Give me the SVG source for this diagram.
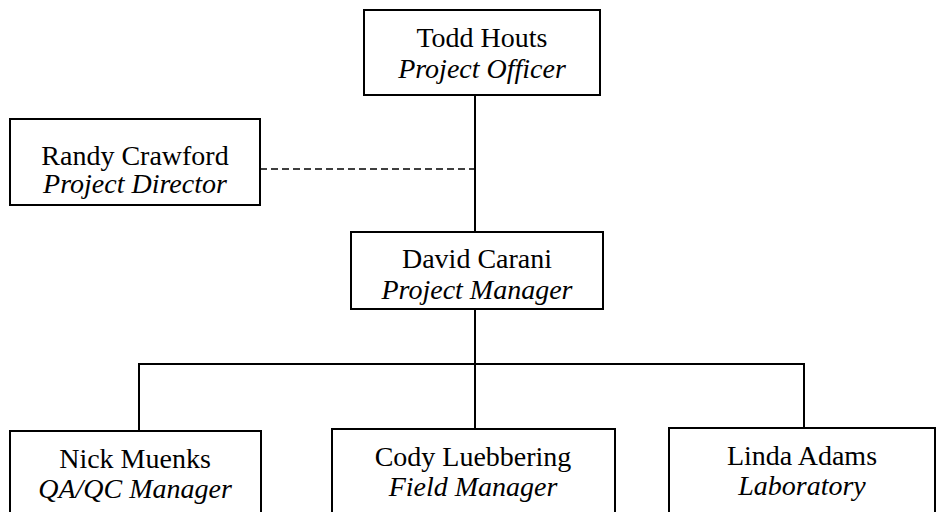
<svg xmlns="http://www.w3.org/2000/svg" width="937" height="512" viewBox="0 0 937 512">
<style>
.box{fill:#fff;stroke:#000;stroke-width:2}
.ln{fill:none;stroke:#000;stroke-width:2}
.dash{fill:none;stroke:#000;stroke-width:1.6;stroke-dasharray:7 4}
text{font-family:"Liberation Serif","Times New Roman",serif;font-size:28px;fill:#000;text-anchor:middle}
.r{font-style:italic}
</style>
<rect width="937" height="512" fill="#fff"/>
<g id="connectors">
<line class="ln" x1="475" y1="95" x2="475" y2="232"/>
<line class="dash" x1="260" y1="169" x2="475" y2="169"/>
<line class="ln" x1="475" y1="309" x2="475" y2="429"/>
<line class="ln" x1="138" y1="364" x2="805" y2="364"/>
<line class="ln" x1="139" y1="363" x2="139" y2="431"/>
<line class="ln" x1="804" y1="363" x2="804" y2="428"/>
</g>
<g id="todd">
<rect class="box" x="364" y="10" width="236" height="85"/>
<text x="482" y="47">Todd Houts</text>
<text class="r" x="482" y="78">Project Officer</text>
</g>
<g id="randy">
<rect class="box" x="10" y="119" width="250" height="86"/>
<text x="135" y="165">Randy Crawford</text>
<text class="r" x="135" y="193">Project Director</text>
</g>
<g id="david">
<rect class="box" x="351" y="232" width="252" height="77"/>
<text x="477" y="268">David Carani</text>
<text class="r" x="477" y="299">Project Manager</text>
</g>
<g id="nick">
<rect class="box" x="10" y="431" width="251" height="90"/>
<text x="135" y="468">Nick Muenks</text>
<text class="r" x="135" y="498">QA/QC Manager</text>
</g>
<g id="cody">
<rect class="box" x="332" y="429" width="283" height="92"/>
<text x="473" y="466">Cody Luebbering</text>
<text class="r" x="473" y="496">Field Manager</text>
</g>
<g id="linda">
<rect class="box" x="669" y="428" width="266" height="93"/>
<text x="802" y="465">Linda Adams</text>
<text class="r" x="802" y="495">Laboratory</text>
</g>
</svg>
